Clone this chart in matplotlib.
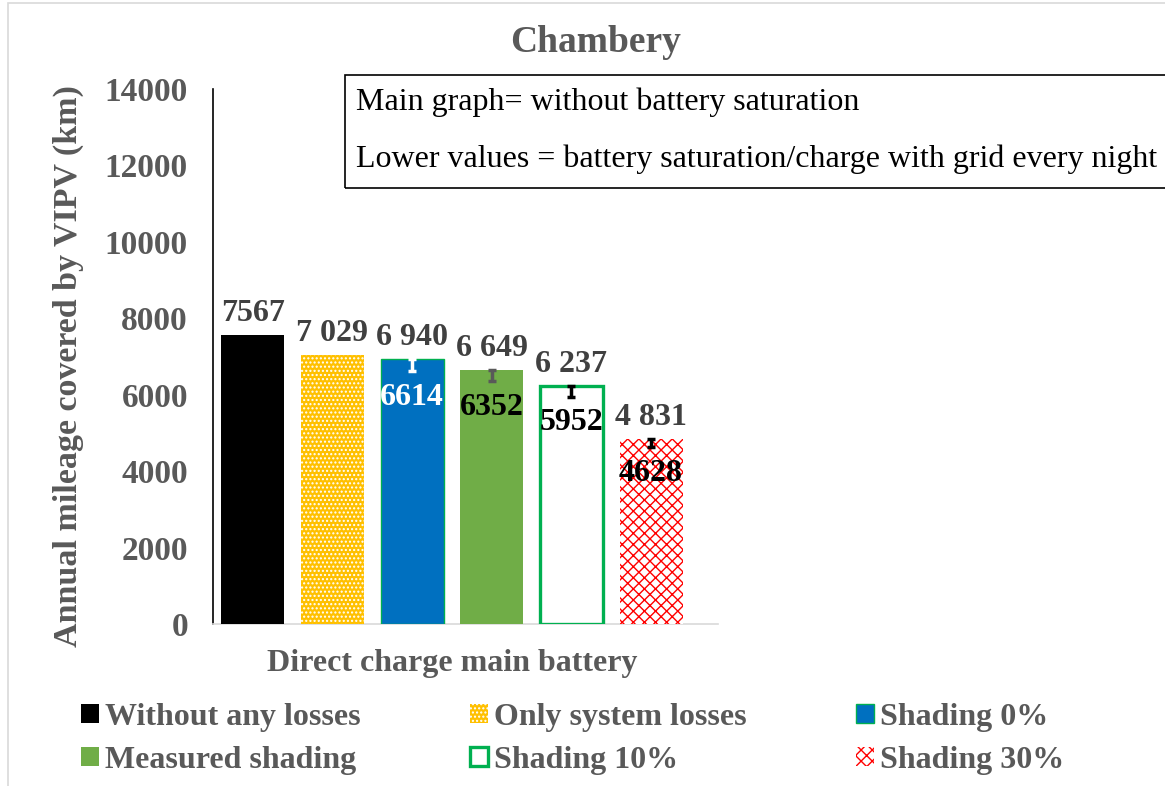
import matplotlib
matplotlib.use('Agg')
import matplotlib.pyplot as plt
from matplotlib.patches import Rectangle

plt.rcParams['font.family'] = ['Liberation Serif', 'DejaVu Serif']
plt.rcParams['hatch.linewidth'] = 1.0

# data
series = ['Without any losses', 'Only system losses', 'Shading 0%',
          'Measured shading', 'Shading 10%', 'Shading 30%']
main_values = [7567, 7029, 6940, 6649, 6237, 4831]
main_labels = ['7567', '7 029', '6 940', '6 649', '6 237', '4 831']
lower_values = [None, None, 6614, 6352, 5952, 4628]
y_ticks = [0, 2000, 4000, 6000, 8000, 10000, 12000, 14000]

# styles
faces = ['black', '#FFC000', '#0070C0', '#70AD47', 'white', 'white']
edges = ['black', 'white', '#00B050', '#70AD47', '#00B050', '#FF0000']
lws = [0, 0, 1.0, 0, 2.4, 0]
hatches = [None, '....', None, None, None, 'xxx']
err_colors = [None, None, 'white', '#595959', 'black', 'black']
low_colors = [None, None, 'white', 'black', 'black', 'black']
GREY = '#595959'

fig = plt.figure(figsize=(11.65, 7.86), dpi=100)
ax = fig.add_axes([0.1828, 0.2061, 0.4335, 0.6807])

bars = []
for i, name in enumerate(series):
    b = ax.bar(i, main_values[i], width=0.79, color=faces[i], edgecolor=edges[i],
               linewidth=lws[i], hatch=hatches[i], label=name, zorder=3)
    bars.append(b)
    ax.annotate(main_labels[i], (i, main_values[i]), xytext=(0, 5),
                textcoords='offset points', ha='center', va='bottom',
                fontsize=23, fontweight='bold', color='#404040')
    if lower_values[i] is not None:
        ax.errorbar(i, main_values[i], yerr=[[main_values[i] - lower_values[i]], [0]],
                    fmt='none', ecolor=err_colors[i], elinewidth=2.5,
                    capsize=3, capthick=2.5, zorder=4)
        ax.annotate(str(lower_values[i]), (i, lower_values[i]), xytext=(0, -19),
                    textcoords='offset points', ha='center', va='center',
                    fontsize=23, fontweight='bold', color=low_colors[i], zorder=5)

ax.set_xlim(-0.5, 5.84)
ax.set_ylim(0, 14000)
ax.set_yticks(y_ticks)
ax.set_yticklabels([str(t) for t in y_ticks], fontsize=24, fontweight='bold', color=GREY)
ax.set_xticks([])
ax.tick_params(axis='y', length=0, pad=18)
for s in ['top', 'right']:
    ax.spines[s].set_visible(False)
ax.spines['left'].set_color('black')
ax.spines['left'].set_linewidth(1.2)
ax.spines['bottom'].set_color('#D9D9D9')
ax.spines['bottom'].set_linewidth(1.2)

ax.set_xlabel('Direct charge main battery', fontsize=23, fontweight='bold', color=GREY)
ax.xaxis.set_label_coords(0.473, -0.073)
ax.set_ylabel('Annual mileage covered by VIPV (km)', fontsize=24.5, fontweight='bold',
              color=GREY)
ax.yaxis.set_label_coords(-0.287, 0.483)
ax.yaxis.label.set_va('center')
ax.xaxis.label.set_va('center')
fig.text(0.511, 0.946, 'Chambery', ha='center', va='center', fontsize=27,
         fontweight='bold', color=GREY)

# note box
fig.patches.append(Rectangle((0.2961, 0.7608), 0.72, 0.1438, transform=fig.transFigure,
                             facecolor='none', edgecolor='black', linewidth=1.2))
fig.text(0.306, 0.870, 'Main graph= without battery saturation', ha='left',
         va='center', fontsize=23, color='black')
fig.text(0.306, 0.797, 'Lower values = battery saturation/charge with grid every night',
         ha='left', va='center', fontsize=23, color='black')

# outer border
fig.patches.append(Rectangle((0.0069, -0.01), 1.0, 1.0062, transform=fig.transFigure,
                             facecolor='none', edgecolor='#D9D9D9', linewidth=1.2))

order = [0, 3, 1, 4, 2, 5]
handles = [bars[k] for k in order]
labels = [series[k] for k in order]
leg = fig.legend(handles, labels, loc='upper left', bbox_to_anchor=(0.0452, 0.142),
                 ncol=3, frameon=False, handlelength=0.55, handleheight=0.55,
                 handletextpad=0.2, columnspacing=3.42, labelspacing=0.42,
                 prop={'size': 23, 'weight': 'bold'})
for t in leg.get_texts():
    t.set_color(GREY)

fig.savefig('out.png', dpi=100)
